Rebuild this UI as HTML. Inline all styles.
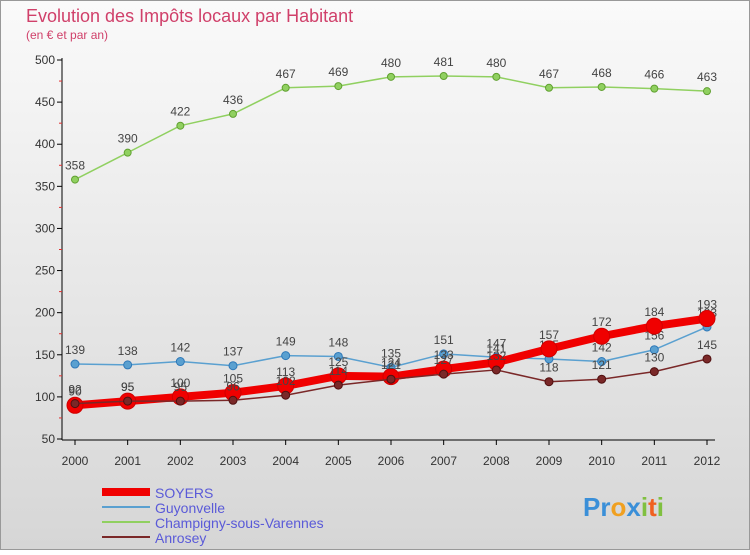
<!DOCTYPE html>
<html><head><meta charset="utf-8"><style>
body{margin:0;width:750px;height:550px;overflow:hidden;font-family:"Liberation Sans",sans-serif}
</style></head><body>
<svg width="750" height="550" xmlns="http://www.w3.org/2000/svg">
<defs><linearGradient id="bg" x1="0" y1="0" x2="0" y2="1"><stop offset="0" stop-color="#fafafa"/><stop offset="1" stop-color="#d6d6d6"/></linearGradient></defs>
<rect x="0.5" y="0.5" width="749" height="549" fill="url(#bg)" stroke="#999"/>
<text x="26" y="22" font-size="18" fill="#d0406a">Evolution des Impôts locaux par Habitant</text>
<text x="26" y="39" font-size="12" fill="#d0406a">(en € et par an)</text>
<g id="axes"></g><g id="series"></g><g id="legend"></g>
<g font-size="26" font-weight="bold">
<text x="583" y="516"><tspan fill="#3a8fd8">Pr</tspan><tspan fill="#f0a020">o</tspan><tspan fill="#3a8fd8">x</tspan><tspan fill="#80c040">i</tspan><tspan fill="#f06020">t</tspan><tspan fill="#80c040">i</tspan></text>
</g>
</svg>
<script>
const years=[2000,2001,2002,2003,2004,2005,2006,2007,2008,2009,2010,2011,2012];
const yTicks=[50,100,150,200,250,300,350,400,450,500];
const soyers=[90,95,100,105,113,125,124,133,141,157,172,184,193];
const guyonvelle=[139,138,142,137,149,148,135,151,147,145,142,156,183];
const champigny=[358,390,422,436,467,469,480,481,480,467,468,466,463];
const anrosey=[92,95,95,96,102,114,121,127,132,118,121,130,145];
const NS="http://www.w3.org/2000/svg";
const X=i=>75+i*(707-75)/(years.length-1);
const Y=v=>439-(v-50)*(379/450);
function mk(t,a,p){const e=document.createElementNS(NS,t);for(const k in a)e.setAttribute(k,a[k]);p.appendChild(e);return e;}
const ax=document.getElementById('axes');
const yl=mk('line',{x1:62,y1:58,x2:62,y2:440,stroke:'#000'},ax);


yTicks.forEach(v=>{
  mk('line',{x1:57,x2:62,y1:Y(v),y2:Y(v),stroke:'#000'},ax);
  if(v<500)mk('line',{x1:59,x2:62,y1:Y(v+25),y2:Y(v+25),stroke:'#e03030'},ax);
  const t=mk('text',{x:55,y:Y(v)+4,'font-size':12,'text-anchor':'end',fill:'#333'},ax);
  t.textContent=v;
  
  
});
mk('line',{x1:62,y1:440,x2:715,y2:440,stroke:'#000'},ax);
years.forEach((y,i)=>{
  mk('line',{x1:X(i),x2:X(i),y1:440,y2:445,stroke:'#000'},ax);
  const t=mk('text',{x:X(i),y:465,'font-size':12,'text-anchor':'middle',fill:'#333'},ax);
  t.textContent=y;
  
  
});
const sg=document.getElementById('series');
function draw(data,color,w,r,name,stroke){
  const g=mk('g',{},sg);
  
  
  mk('polyline',{points:data.map((v,i)=>X(i)+','+Y(v)).join(' '),fill:'none',stroke:color,'stroke-width':w,'stroke-linejoin':'round'},g);
  data.forEach((v,i)=>{
    const c=mk('circle',{cx:X(i),cy:Y(v),r:r,fill:color,stroke:stroke,'stroke-width':1},g);
    
    
    const t=mk('text',{x:X(i),y:Y(v)-10,'font-size':12,'text-anchor':'middle',fill:'#444'},g);
    t.textContent=v;
    
    
  });
}
draw(champigny,'#90d060',1.5,3.5,'champigny','#60a030');
draw(guyonvelle,'#5aa0d0',1.5,4,'guyonvelle','#2e78b8');
draw(soyers,'#f00000',8,8,'soyers','#d00000');
draw(anrosey,'#7a2828',1.5,4,'anrosey','#501010');
const lg=document.getElementById('legend');
const items=[['SOYERS','#f00000',8],['Guyonvelle','#5aa0d0',2],['Champigny-sous-Varennes','#90d060',2],['Anrosey','#7a2828',2]];
items.forEach((it,i)=>{
  const y=492+i*15;
  const g=mk('g',{},lg);
  
  
  mk('line',{x1:102,x2:150,y1:y,y2:y,stroke:it[1],'stroke-width':it[2]},g);
  const t=mk('text',{x:155,y:y+6,'font-size':14,fill:'#5a5ad8'},g);
  t.textContent=it[0];
});
</script>
</body></html>
